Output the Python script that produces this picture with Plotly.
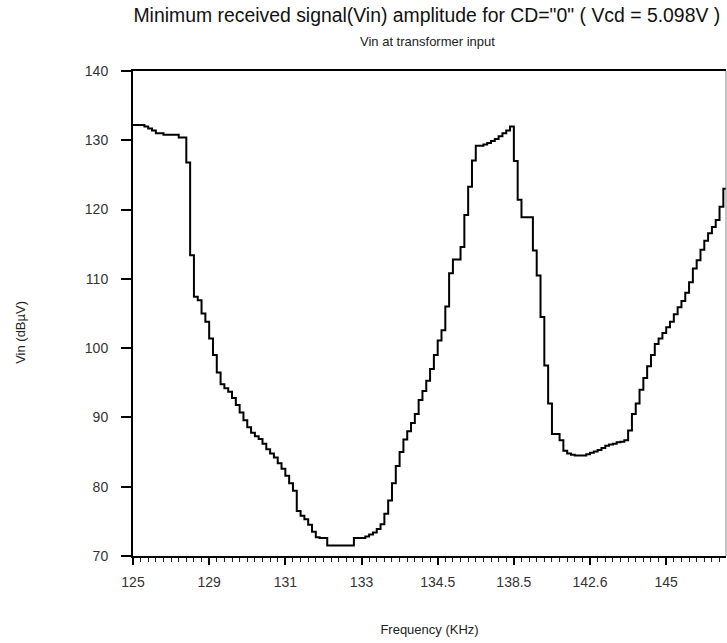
import plotly.graph_objects as go

# sample index (0.5 tick-step spacing), 20 samples per labelled tick
tick_labels = ["125", "129", "131", "133", "134.5", "138.5", "142.6", "145"]
tick_pos = [0, 20, 40, 60, 80, 100, 120, 140]

vin_dbuv = [
    132.2, 132.2, 132.2, 132.0, 131.7, 131.4, 131.0, 131.0, 130.8, 130.8,
    130.8, 130.8, 130.4, 130.4, 126.8, 113.4, 107.4, 106.9, 105.0, 103.8,
    101.4, 99.0, 96.5, 94.8, 94.2, 93.7, 92.8, 91.8, 90.7, 89.6,
    88.6, 87.8, 87.3, 86.9, 86.2, 85.4, 84.8, 84.2, 83.4, 82.6,
    81.6, 80.5, 79.4, 76.5, 75.8, 75.3, 74.5, 73.5, 72.7, 72.6,
    72.6, 71.5, 71.5, 71.5, 71.5, 71.5, 71.5, 71.5, 72.6, 72.6,
    72.6, 72.8, 73.1, 73.4, 73.9, 74.6, 76.1, 78.0, 80.5, 83.0,
    85.0, 86.8, 88.0, 89.2, 90.5, 92.5, 93.8, 95.3, 97.0, 99.0,
    101.1, 102.6, 106.0, 110.8, 112.8, 112.8, 114.6, 119.2, 123.3, 127.1,
    129.2, 129.2, 129.4, 129.6, 129.9, 130.2, 130.6, 131.0, 131.4, 132.0,
    127.0, 121.4, 118.9, 118.9, 118.9, 114.1, 110.5, 104.5, 97.5, 92.0,
    87.6, 87.6, 86.7, 85.2, 84.8, 84.6, 84.5, 84.5, 84.5, 84.7,
    84.9, 85.1, 85.3, 85.6, 85.9, 86.1, 86.2, 86.4, 86.5, 86.7,
    88.1, 90.5, 92.0, 94.0, 95.7, 97.4, 99.0, 100.6, 101.4, 102.2,
    103.0, 103.8, 104.9, 105.9, 106.8, 108.0, 109.5, 111.5, 112.7, 114.2,
    115.5, 116.6, 117.5, 118.5, 120.4, 123.0, 124.0,
]
sample_idx = list(range(len(vin_dbuv)))

sans = "Liberation Sans, Arial, sans-serif"

fig = go.Figure()
fig.add_trace(go.Scatter(
    x=sample_idx, y=vin_dbuv, mode="lines",
    line=dict(color="black", width=2, shape="hv"),
    showlegend=False, hoverinfo="skip",
))

fig.update_layout(
    width=727, height=643,
    margin=dict(l=133, r=1, t=71, b=87),
    paper_bgcolor="white", plot_bgcolor="white",
    title=dict(
        text="Minimum received signal(Vin) amplitude for CD=\"0\" ( Vcd = 5.098V )",
        font=dict(family=sans, size=19.4, color="#111"),
        x=0.4955, xref="paper", xanchor="center",
        y=0.977, yref="container", yanchor="middle",
    ),
    annotations=[
        dict(text="Vin at transformer input", xref="paper", yref="paper",
             x=0.497, y=1.0, yshift=30, yanchor="middle", showarrow=False,
             font=dict(family=sans, size=13, color="#222")),
        dict(text="Vin (dBµV)", xref="paper", yref="paper",
             x=-0.189, y=0.462, textangle=-90, showarrow=False,
             xanchor="center", yanchor="middle",
             font=dict(family=sans, size=13, color="#222")),
    ],
    xaxis=dict(
        range=[0, 155.7], tickmode="array", tickvals=tick_pos, ticktext=tick_labels,
        ticks="outside", ticklen=7, tickwidth=1.5, tickcolor="black",
        minor=dict(dtick=2, tick0=0, ticks="outside", ticklen=4, tickwidth=1, tickcolor="#222"),
        showline=True, linecolor="black", linewidth=2, mirror=True,
        showgrid=False, zeroline=False,
        tickfont=dict(family=sans, size=14, color="#333"),
        ticklabelstandoff=5,
        title=dict(text="Frequency (KHz)", font=dict(family=sans, size=13, color="#222"), standoff=36),
    ),
    yaxis=dict(
        range=[70, 140], tickmode="linear", tick0=70, dtick=10,
        ticks="outside", ticklen=10, tickwidth=1.5, tickcolor="black",
        showline=True, linecolor="black", linewidth=2,
        showgrid=False, zeroline=False,
        tickfont=dict(family=sans, size=14, color="#333"),
        ticklabelstandoff=10,
    ),
    shapes=[dict(type="line", xref="paper", yref="paper", x0=1, x1=1, y0=0, y1=1,
                 line=dict(color="#888", width=1))],
)

fig.write_html("out.html")
